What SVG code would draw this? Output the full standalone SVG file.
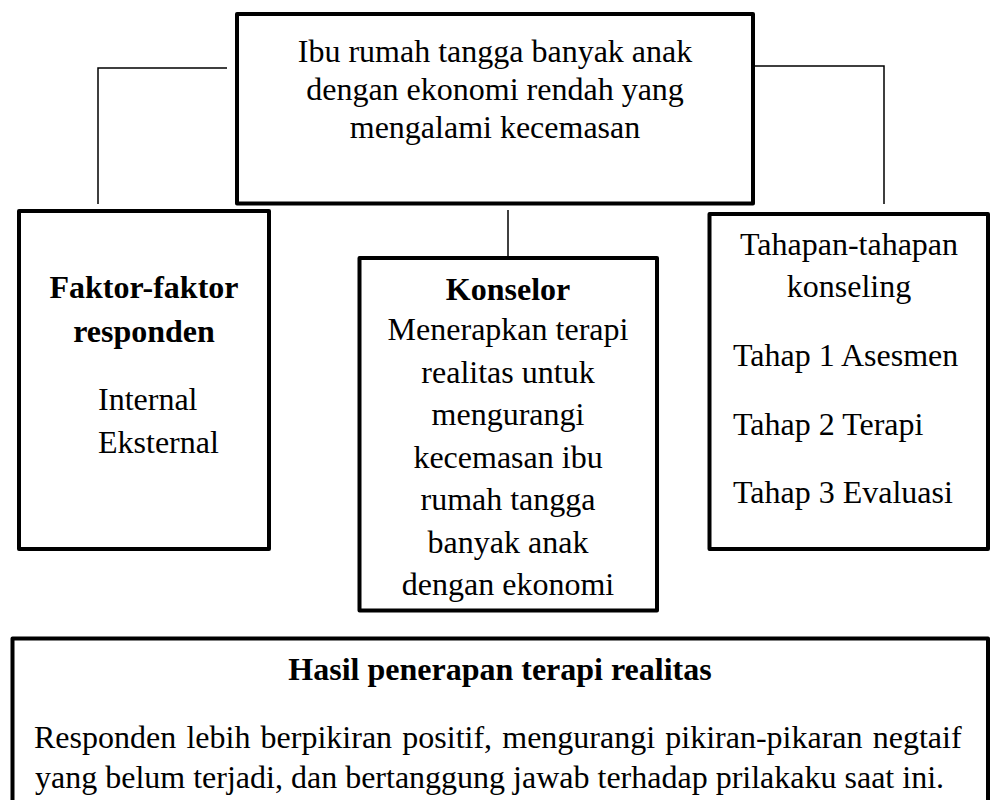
<svg xmlns="http://www.w3.org/2000/svg" width="992" height="800" viewBox="0 0 992 800">
<style>
.box{fill:#fff;stroke:#000;stroke-width:4;stroke-linejoin:round}
.conn{fill:none;stroke:#000;stroke-width:1.5}
text{font-family:"Liberation Serif","Times New Roman",serif;font-size:32px;fill:#000}
.c{text-anchor:middle}
.b{font-weight:bold}
</style>
<rect width="992" height="800" fill="#fff"/>
<g id="connectors">
<polyline class="conn" points="227,68 98,68 98,204"/>
<polyline class="conn" points="755,66 884,66 884,204"/>
<line class="conn" x1="508" y1="210" x2="508" y2="257"/>
</g>
<g id="top">
<rect class="box" x="237" y="14" width="516" height="189.5"/>
<text class="c" x="495" y="62">Ibu rumah tangga banyak anak</text>
<text class="c" x="495" y="100">dengan ekonomi rendah yang</text>
<text class="c" x="495" y="138">mengalami kecemasan</text>
</g>
<g id="faktor">
<rect class="box" x="19" y="211" width="250" height="338"/>
<text class="c b" x="144" y="298">Faktor-faktor</text>
<text class="c b" x="144" y="342">responden</text>
<text x="98" y="410">Internal</text>
<text x="98" y="453">Eksternal</text>
</g>
<g id="konselor">
<rect class="box" x="359.5" y="258" width="297.5" height="352.5"/>
<text class="c b" x="508" y="300">Konselor</text>
<text class="c" x="508" y="340">Menerapkan terapi</text>
<text class="c" x="508" y="383">realitas untuk</text>
<text class="c" x="508" y="425">mengurangi</text>
<text class="c" x="508" y="468">kecemasan ibu</text>
<text class="c" x="508" y="510">rumah tangga</text>
<text class="c" x="508" y="553">banyak anak</text>
<text class="c" x="508" y="595">dengan ekonomi</text>
</g>
<g id="tahapan">
<rect class="box" x="709.5" y="214" width="278.5" height="335"/>
<text class="c" x="849" y="255">Tahapan-tahapan</text>
<text class="c" x="849" y="297">konseling</text>
<text x="733" y="366">Tahap 1 Asesmen</text>
<text x="733" y="435">Tahap 2 Terapi</text>
<text x="733" y="503">Tahap 3 Evaluasi</text>
</g>
<g id="hasil">
<rect class="box" x="12.5" y="638.5" width="975.5" height="200"/>
<text class="c b" x="500" y="680">Hasil penerapan terapi realitas</text>
<text x="34" y="748" word-spacing="2.2">Responden lebih berpikiran positif, mengurangi pikiran-pikaran negtaif</text>
<text x="35" y="788">yang belum terjadi, dan bertanggung jawab terhadap prilakaku saat ini.</text>
</g>
</svg>
